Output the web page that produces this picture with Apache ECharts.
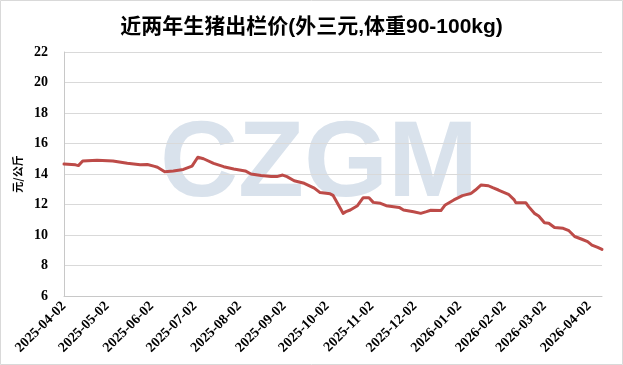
<!DOCTYPE html>
<html>
<head>
<meta charset="utf-8">
<script src="https://cdn.jsdelivr.net/npm/echarts@6/dist/echarts.min.js"></script>
<style>
html,body{margin:0;padding:0;background:#fff;}
#chart{width:623px;height:365px;}
</style>
</head>
<body>
<div id="chart"></div>
<script>
const titleText = '近两年生猪出栏价(外三元,体重90-100kg)';
const yAxisName = '元/公斤';
const watermarkText = 'CZGM';
const axisStart = '2025-04-02';
const axisEnd = '2026-04-11';
const tickLabels = ['2025-04-02','2025-05-02','2025-06-02','2025-07-02','2025-08-02','2025-09-02','2025-10-02','2025-11-02','2025-12-02','2026-01-02','2026-02-02','2026-03-02','2026-04-02'];
const sampleDates = ['2025-04-02','2025-04-10','2025-04-12','2025-04-15','2025-04-25','2025-05-06','2025-05-16','2025-05-25','2025-05-30','2025-06-04','2025-06-06','2025-06-11','2025-06-17','2025-06-24','2025-06-30','2025-07-04','2025-07-08','2025-07-15','2025-07-22','2025-07-29','2025-08-06','2025-08-10','2025-08-17','2025-08-24','2025-08-28','2025-09-01','2025-09-04','2025-09-09','2025-09-16','2025-09-23','2025-09-27','2025-10-04','2025-10-06','2025-10-13','2025-10-15','2025-10-18','2025-10-23','2025-10-27','2025-10-31','2025-11-03','2025-11-08','2025-11-12','2025-11-21','2025-11-24','2025-12-01','2025-12-06','2025-12-10','2025-12-13','2025-12-20','2025-12-23','2025-12-29','2026-01-04','2026-01-10','2026-01-13','2026-01-17','2026-01-22','2026-01-25','2026-01-29','2026-02-05','2026-02-09','2026-02-10','2026-02-17','2026-02-19','2026-02-23','2026-02-26','2026-03-02','2026-03-05','2026-03-09','2026-03-15','2026-03-19','2026-03-23','2026-03-28','2026-04-01','2026-04-04','2026-04-08','2026-04-11'];
const priceValues = [14.65,14.6,14.55,14.85,14.9,14.85,14.7,14.6,14.62,14.5,14.44,14.15,14.2,14.3,14.52,15.1,15.0,14.7,14.48,14.33,14.2,14.0,13.9,13.83,13.83,13.93,13.83,13.56,13.39,13.07,12.78,12.7,12.6,11.42,11.53,11.64,11.92,12.45,12.45,12.14,12.08,11.92,11.81,11.64,11.53,11.42,11.53,11.62,11.6,11.97,12.3,12.58,12.73,12.95,13.28,13.23,13.1,12.95,12.67,12.3,12.12,12.12,11.86,11.42,11.25,10.8,10.77,10.49,10.44,10.28,9.9,9.72,9.57,9.34,9.19,9.06];

// daily category list for the axis
const dayCategories = [];
(function(){
  const pad = n => (n < 10 ? '0' : '') + n;
  let t = Date.parse(axisStart + 'T00:00:00Z');
  const end = Date.parse(axisEnd + 'T00:00:00Z');
  while (t <= end) {
    const d = new Date(t);
    dayCategories.push(d.getUTCFullYear() + '-' + pad(d.getUTCMonth() + 1) + '-' + pad(d.getUTCDate()));
    t += 86400000;
  }
})();

const seriesData = sampleDates.map((d, i) => [d, priceValues[i]]);

const chart = echarts.init(document.getElementById('chart'), null, {renderer: 'canvas'});
chart.setOption({
  animation: false,
  backgroundColor: '#fff',
  title: {
    text: titleText,
    left: 'center',
    top: 12,
    textStyle: {fontSize: 21, fontWeight: 'bold', color: '#000', fontFamily: '"Liberation Sans", "Noto Sans CJK SC", sans-serif'}
  },
  graphic: [
    {type: 'rect', z: 100, shape: {x: 0.5, y: 0.5, width: 622, height: 364}, style: {fill: 'none', stroke: '#d9d9d9', lineWidth: 1}},
    {type: 'text', z: -10, left: 160, top: 112,
     style: {text: watermarkText, fill: '#d9e2ec', font: 'bold 108px "Liberation Sans", sans-serif'}}
  ],
  grid: {left: 64, right: 21, top: 52, bottom: 69, containLabel: false},
  xAxis: {
    type: 'category',
    data: dayCategories,
    boundaryGap: false,
    axisLine: {show: true, lineStyle: {color: '#c8c8c8', width: 1}},
    axisTick: {show: false},
    splitLine: {show: false},
    axisLabel: {
      interval: (idx, val) => tickLabels.indexOf(val) >= 0,
      rotate: 45,
      margin: 8,
      color: '#000',
      fontSize: 14,
      fontWeight: 'bold',
      fontFamily: '"Liberation Serif", serif'
    }
  },
  yAxis: {
    type: 'value',
    min: 6, max: 22, interval: 2,
    name: yAxisName,
    nameLocation: 'middle',
    nameGap: 40,
    nameRotate: 90,
    nameTextStyle: {fontSize: 11, fontWeight: 'bold', color: '#000', fontFamily: '"Noto Sans CJK SC", sans-serif'},
    axisLine: {show: true, lineStyle: {color: '#c8c8c8', width: 1}},
    axisTick: {show: false},
    splitLine: {show: true, lineStyle: {color: '#d9d9d9', width: 1}},
    axisLabel: {
      margin: 16,
      color: '#000',
      fontSize: 14,
      fontWeight: 'bold',
      fontFamily: '"Liberation Serif", serif'
    }
  },
  series: [{
    type: 'line',
    data: seriesData,
    showSymbol: false,
    symbol: 'none',
    smooth: false,
    lineStyle: {color: '#bd4b48', width: 3, cap: 'round', join: 'round'},
    itemStyle: {color: '#bd4b48'}
  }]
});
</script>
</body>
</html>
